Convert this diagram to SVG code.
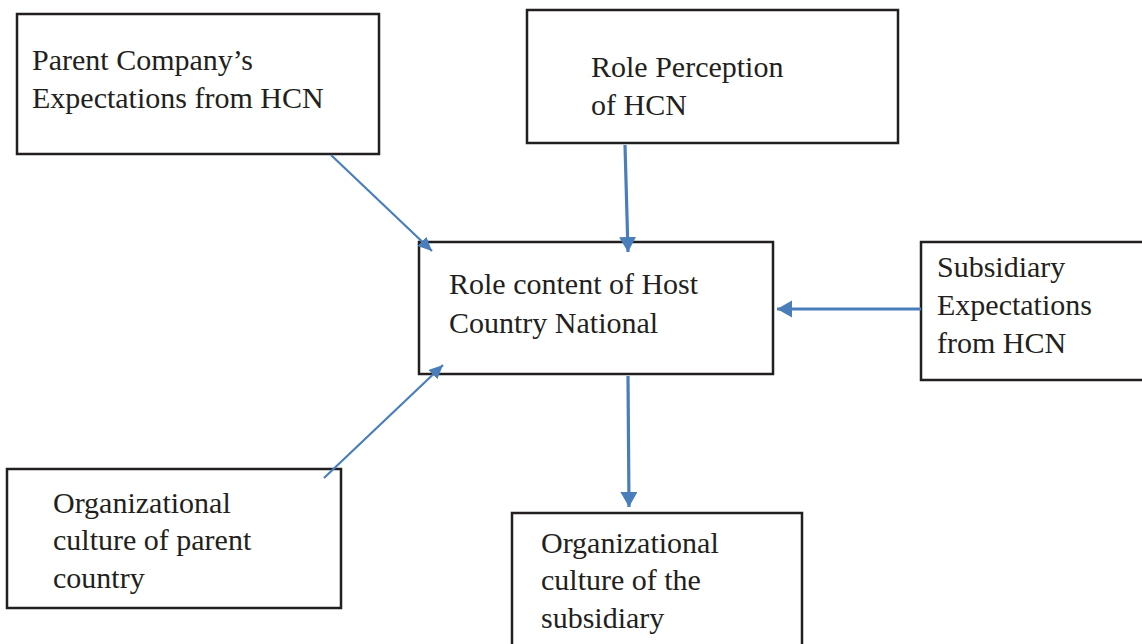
<svg xmlns="http://www.w3.org/2000/svg" width="1142" height="644" viewBox="0 0 1142 644">
  <style>
    .box { fill: #ffffff; stroke: #231f20; stroke-width: 2.5; }
    .label { font-family: "Liberation Serif", "Times New Roman", serif; font-size: 30px; fill: #231f20; }
    .wire { fill: none; stroke: #4a7ebb; }
    .thick { stroke-width: 3.2; }
    .thin { stroke-width: 2.2; }
  </style>
  <defs>
    <marker id="headL" markerUnits="userSpaceOnUse" markerWidth="16" markerHeight="18" refX="15" refY="8.5" orient="auto">
      <path d="M0,0 L15,8.5 L0,17 Z" fill="#4a7ebb"/>
    </marker>
    <marker id="headS" markerUnits="userSpaceOnUse" markerWidth="15" markerHeight="14" refX="14" refY="6.5" orient="auto">
      <path d="M0,0 L14,6.5 L0,13 Z" fill="#4a7ebb"/>
    </marker>
  </defs>

  <rect width="1142" height="644" fill="#ffffff"/>

  <!-- nodes -->
  <g id="parent-expectations">
    <rect class="box" x="17" y="14" width="362" height="140"/>
    <text class="label" x="32" y="70">Parent Company’s</text>
    <text class="label" x="32" y="108">Expectations from HCN</text>
  </g>

  <g id="role-perception">
    <rect class="box" x="527" y="10" width="371" height="133"/>
    <text class="label" x="591" y="77">Role Perception</text>
    <text class="label" x="591" y="115">of HCN</text>
  </g>

  <g id="role-content">
    <rect class="box" x="419" y="242" width="354" height="132"/>
    <text class="label" x="449" y="294">Role content of Host</text>
    <text class="label" x="449" y="333">Country National</text>
  </g>

  <g id="subsidiary-expectations">
    <rect class="box" x="921" y="242" width="230" height="138"/>
    <text class="label" x="937" y="277">Subsidiary</text>
    <text class="label" x="937" y="315">Expectations</text>
    <text class="label" x="937" y="353">from HCN</text>
  </g>

  <g id="parent-culture">
    <rect class="box" x="7" y="469" width="334" height="139"/>
    <text class="label" x="53" y="513">Organizational</text>
    <text class="label" x="53" y="550">culture of parent</text>
    <text class="label" x="53" y="588">country</text>
  </g>

  <g id="subsidiary-culture">
    <rect class="box" x="512" y="513" width="290" height="140"/>
    <text class="label" x="541" y="553">Organizational</text>
    <text class="label" x="541" y="590">culture of the</text>
    <text class="label" x="541" y="628">subsidiary</text>
  </g>

  <!-- connectors, drawn last so the arrowheads sit over the box edges -->
  <g id="connectors">
    <line class="wire thin" x1="331" y1="155" x2="432" y2="251" marker-end="url(#headS)"/>
    <line class="wire thick" x1="625" y1="145" x2="628" y2="252" marker-end="url(#headL)"/>
    <line class="wire thick" x1="921" y1="309" x2="777" y2="309" marker-end="url(#headL)"/>
    <line class="wire thin" x1="324" y1="478" x2="443" y2="365" marker-end="url(#headS)"/>
    <line class="wire thick" x1="628" y1="376" x2="629" y2="507" marker-end="url(#headL)"/>
  </g>
</svg>
